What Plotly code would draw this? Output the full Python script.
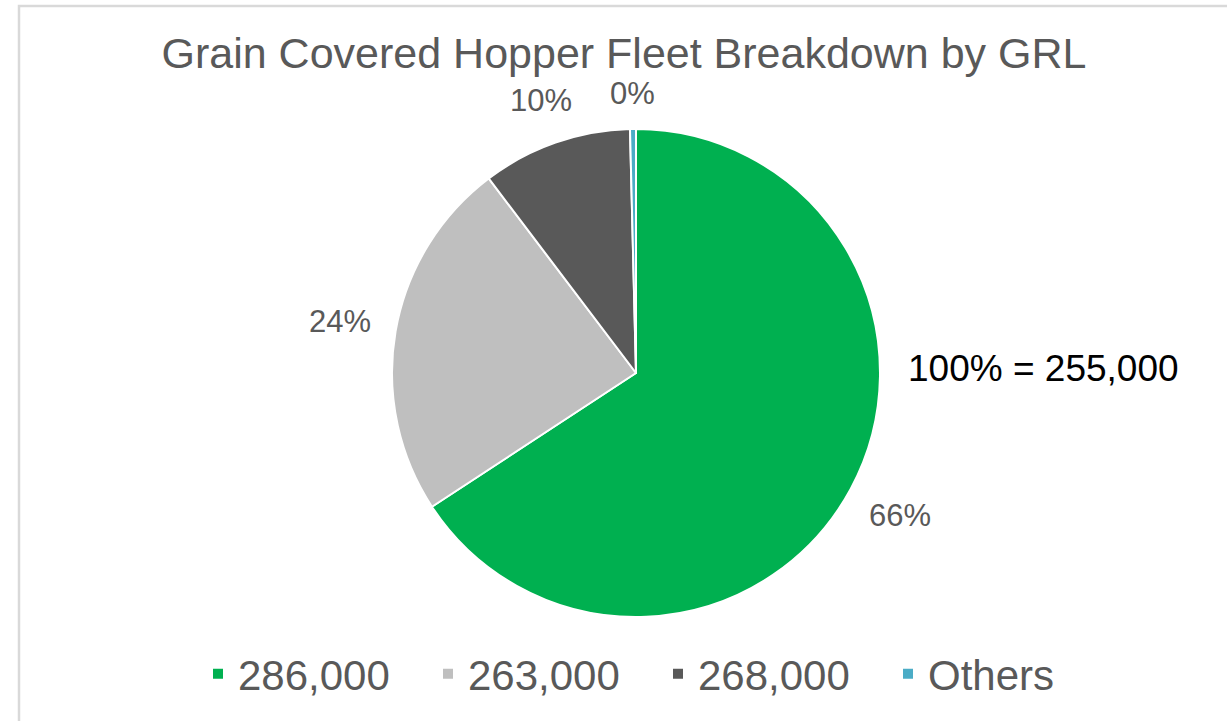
import math
import plotly.graph_objects as go

labels = ["286,000", "263,000", "268,000", "Others"]
values = [167700, 61000, 25300, 1000]
colors = ["#00b050", "#bfbfbf", "#595959", "#4bacc6"]
title_text = "Grain Covered Hopper Fleet Breakdown by GRL"
total_text = "100% = 255,000"

W, H = 1227, 721
cx, cy, r = 636, 373, 244
LABEL_SIZE = 31
FONT = "Liberation Sans, Arial"

fig = go.Figure(go.Pie(
    labels=labels,
    values=values,
    sort=False,
    direction="clockwise",
    rotation=0,
    marker=dict(colors=colors, line=dict(color="white", width=2)),
    textinfo="none",
    domain=dict(x=[(cx - r) / W, (cx + r) / W], y=[(H - cy - r) / H, (H - cy + r) / H]),
    hoverinfo="skip",
    showlegend=True,
))

# percentage data labels placed just outside each slice (Excel-style), derived from the values
total = sum(values)
char_w = {"%": 0.889}
annotations = []
cum = 0.0
for v in values:
    p = v / total
    mid = math.radians((cum + p / 2) * 360)
    cum += p
    txt = f"{round(p * 100):.0f}%"
    hw = sum(char_w.get(c, 0.556) for c in txt) * LABEL_SIZE / 2
    hh = 0.36 * LABEL_SIZE
    s, c = math.sin(mid), math.cos(mid)
    d = r + 24 + abs(s) * hw + abs(c) * hh
    px, py = cx + d * s, cy - d * c
    annotations.append(dict(text=txt, x=px / W, y=1 - py / H, xref="paper", yref="paper",
                            xanchor="center", yanchor="middle", showarrow=False,
                            font=dict(family=FONT, size=LABEL_SIZE, color="#595959")))

annotations.append(dict(text=total_text, x=906 / W, y=1 - 368 / H, xref="paper", yref="paper",
                        xanchor="left", yanchor="middle", showarrow=False,
                        font=dict(family=FONT, size=37, color="black")))

fig.update_layout(
    width=W, height=H,
    margin=dict(l=0, r=0, t=0, b=0),
    paper_bgcolor="white",
    plot_bgcolor="white",
    title=dict(text=title_text, x=624 / W, xanchor="center", y=1 - 53 / H, yanchor="middle",
               font=dict(family=FONT, size=43, color="#595959")),
    legend=dict(orientation="h", x=658 / W, xanchor="center", y=47 / H, yanchor="middle",
                font=dict(family=FONT, size=42, color="#595959"),
                entrywidth=185, entrywidthmode="pixels"),
    annotations=annotations,
    shapes=[dict(type="rect", xref="paper", yref="paper", x0=19 / W, x1=1.05, y0=-0.05, y1=1 - 6 / H,
                 line=dict(color="#d9d9d9", width=2.5), fillcolor="rgba(0,0,0,0)", layer="below")],
)

fig.write_html("out.html", config={"displayModeBar": False},
               post_script="document.body.style.margin='0';")
